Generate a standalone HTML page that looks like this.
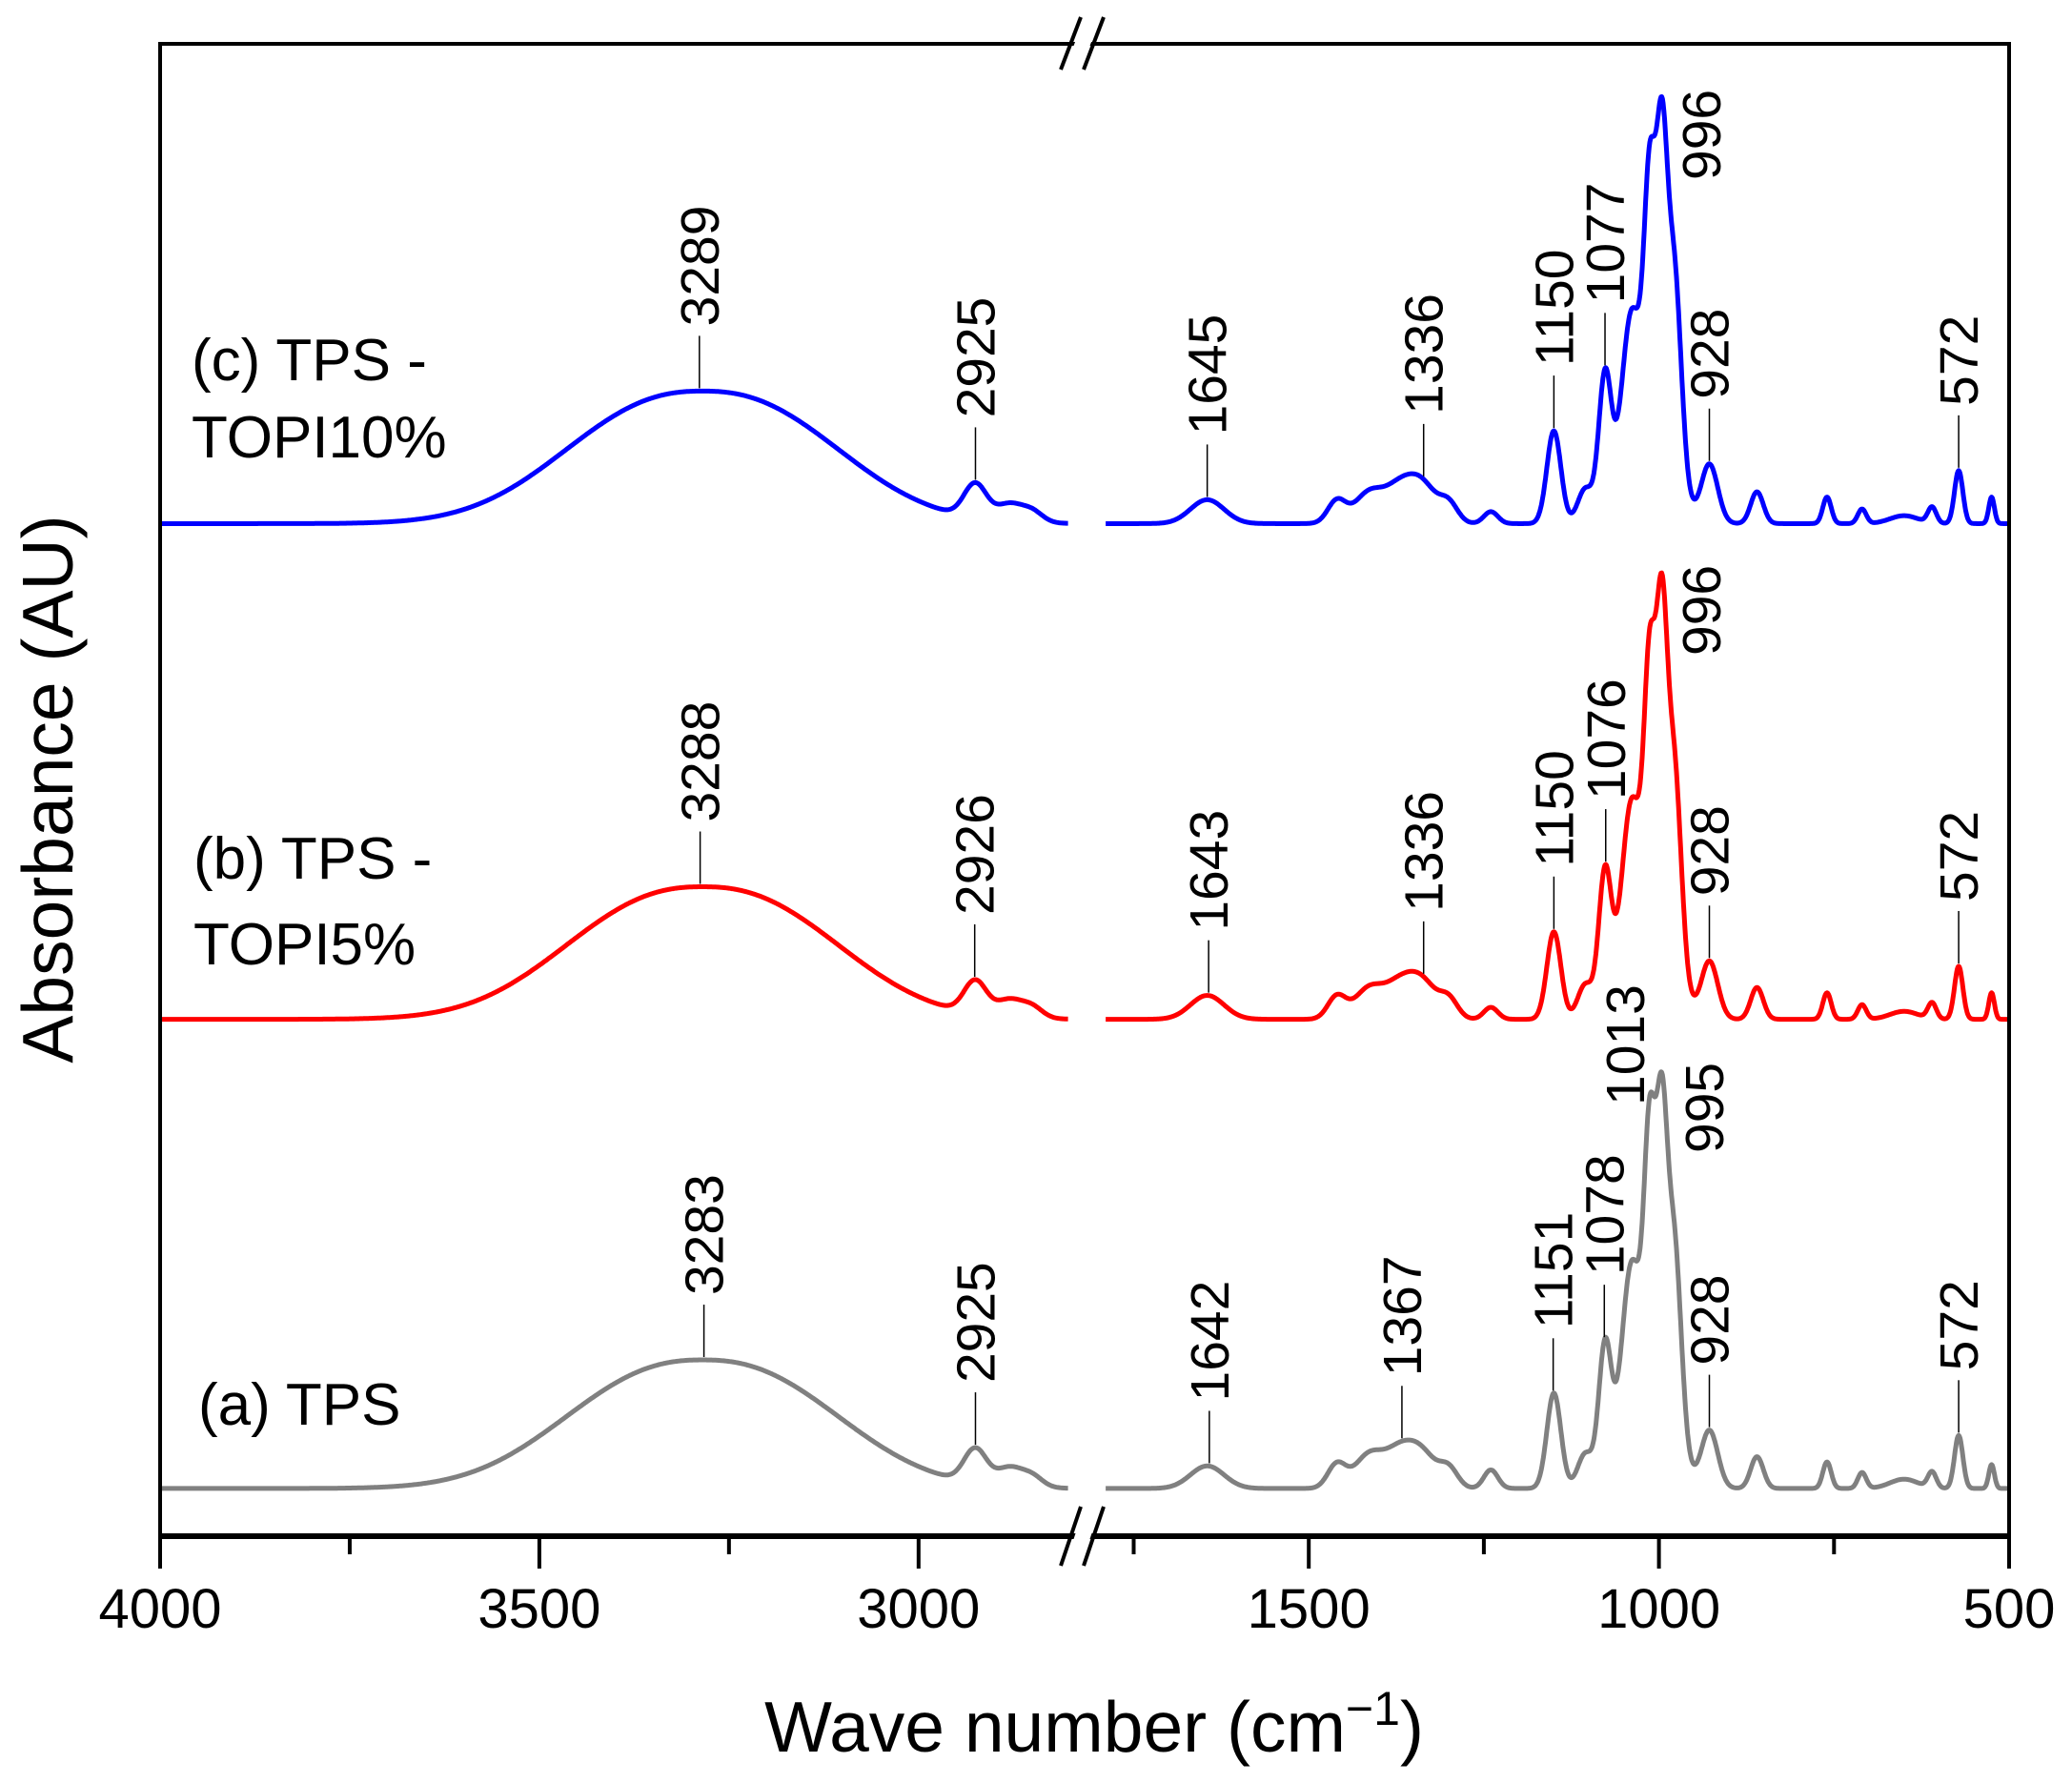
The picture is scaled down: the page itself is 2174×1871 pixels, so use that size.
<!DOCTYPE html>
<html><head><meta charset="utf-8"><style>
html,body{margin:0;padding:0;background:#fff}
svg{display:block}
text{font-family:"Liberation Sans",Arial,sans-serif;fill:#000}
</style></head><body>
<svg id="chart" width="2174" height="1871" viewBox="0 0 2174 1871" xmlns="http://www.w3.org/2000/svg">
<g id="plot"></g>
<text x="1148" y="1838" font-size="75" text-anchor="middle">Wave number (cm<tspan dy="-28" font-size="50">−1</tspan><tspan dy="28">)</tspan></text>
<text transform="translate(76,828) rotate(-90)" font-size="75" text-anchor="middle">Absorbance (AU)</text>
</svg>
<script>
// ---- data ----
const seriesNames = ["(a) TPS", "(b) TPS - TOPI5%", "(c) TPS - TOPI10%"];
const seriesOffsets = [0, 3.54, 7.28];
const seriesColors = ["#808080", "#ff0000", "#0000ff"];
// peak components: centers (cm-1), heights (AU), widths (sigma, cm-1)
const peakCenters = [3285, 2925, 2880, 2850, 1645, 1460, 1415, 1370, 1336, 1300, 1240, 1150, 1105, 1077, 1040, 1025, 1013, 996, 978, 960, 928, 860, 760, 710, 650, 610, 572, 525];
const peakWidths  = [225, 15, 17, 14, 24, 13, 20, 22, 20, 13, 10, 10, 11, 9, 14, 25, 8, 8, 10, 10, 12, 9, 6, 6, 20, 6, 6, 4];
const heightsA = [0.97, 0.26, 0.14, 0.08, 0.17, 0.18, 0.24, 0.28, 0.22, 0.14, 0.14, 0.72, 0.26, 1.02, 1.20, 0.60, 2.00, 2.28, 1.70, 0.10, 0.44, 0.24, 0.20, 0.12, 0.07, 0.12, 0.40, 0.18];
const heightsB = [1.00, 0.25, 0.13, 0.08, 0.18, 0.17, 0.22, 0.26, 0.24, 0.14, 0.09, 0.66, 0.26, 1.05, 1.15, 0.60, 1.98, 2.50, 1.75, 0.10, 0.44, 0.24, 0.20, 0.11, 0.06, 0.12, 0.40, 0.20];
const heightsC = [1.00, 0.26, 0.13, 0.08, 0.18, 0.17, 0.22, 0.27, 0.25, 0.14, 0.09, 0.70, 0.26, 1.06, 1.10, 0.60, 1.92, 2.36, 1.75, 0.10, 0.45, 0.24, 0.20, 0.11, 0.06, 0.12, 0.40, 0.20];
const seriesHeights = [heightsA, heightsB, heightsC];
// annotations: series index, wavenumber, label, has leader line
const annSeries = [2,2,2,2,2,2,2,2,2, 1,1,1,1,1,1,1,1,1, 0,0,0,0,0,0,0,0,0,0];
const annWave   = [3289,2925,1645,1336,1150,1077,996,928,572, 3288,2926,1643,1336,1150,1076,996,928,572, 3283,2925,1642,1367,1151,1078,1013,995,928,572];
const annText   = ["3289","2925","1645","1336","1150","1077","996","928","572", "3288","2926","1643","1336","1150","1076","996","928","572", "3283","2925","1642","1367","1151","1078","1013","995","928","572"];
const annLine   = [1,1,1,1,1,1,0,1,1, 1,1,1,1,1,1,0,1,1, 1,1,1,1,1,1,0,0,1,1];
// layout for labels without leader lines (pixel placement)
const freeLabelPos = {"2-996": [1805, 189], "1-996": [1805, 688], "0-1013": [1725, 1160], "0-995": [1808, 1210]};
const xTicksLeft = [4000, 3500, 3000];
const xTicksRight = [1500, 1000, 500];
const xMinorLeft = [3750, 3250];
const xMinorRight = [1750, 1250, 750];
const leftDomain = [4000, 2803];
const rightDomain = [1790, 500];

// ---- scales ----
const L = 168, R = 2108, T = 46, B = 1612;
const xL = w => L + (4000 - w) * 0.7958;
const xR = w => R - (w - 500) * 0.7348;
const xs = w => w > 2000 ? xL(w) : xR(w);
const yMin = -0.36, yMax = 10.9;
const ys = v => B - (v - yMin) / (yMax - yMin) * (B - T);

function absorb(si, w) {
  const h = seriesHeights[si];
  let s = 0;
  for (let i = 0; i < peakCenters.length; i++) {
    const d = Math.abs(w - peakCenters[i]) / peakWidths[i];
    s += h[i] * (peakWidths[i] > 100 ? Math.exp(-Math.pow(d, 2.4)) : Math.exp(-d * d / 2));
  }
  return s + seriesOffsets[si];
}

const NS = "http://www.w3.org/2000/svg";
const plot = document.getElementById('plot');
function mk(tag, attrs) { const e = document.createElementNS(NS, tag); for (const k in attrs) e.setAttribute(k, attrs[k]); plot.appendChild(e); return e; }

// series
for (let si = 0; si < 3; si++) {
  [[leftDomain, xL], [rightDomain, xR]].forEach(([dom, fx], seg) => {
    let d = "";
    for (let w = dom[0]; w >= dom[1]; w -= 1) {
      d += (d ? "L" : "M") + fx(w).toFixed(1) + "," + ys(absorb(si, w)).toFixed(1);
    }
    const p = mk('path', {d: d, fill: 'none', stroke: seriesColors[si], 'stroke-width': 5, 'stroke-linejoin': 'round'});
    
    
  });
}

// annotations
for (let i = 0; i < annWave.length; i++) {
  const si = annSeries[i], w = annWave[i];
  const x = xs(w), yp = ys(absorb(si, w));
  let tx, ty;
  if (annLine[i]) {
    const ln = mk('line', {x1: x, y1: yp - 3, x2: x, y2: yp - 58, stroke: '#000', 'stroke-width': 1.5});
    
    
    tx = x + 20; ty = yp - 68;
  } else {
    const pos = freeLabelPos[si + '-' + w];
    tx = pos[0]; ty = pos[1];
  }
  const t = mk('text', {transform: `translate(${tx},${ty}) rotate(-90)`, 'font-size': 57});
  t.textContent = annText[i];
  
  
}

// series labels
const labelLines = [[["(a) TPS", 208, 1495]], [["(b) TPS -", 203, 922], ["TOPI5%", 203, 1012]], [["(c) TPS -", 201, 399], ["TOPI10%", 201, 480]]];
labelLines.forEach((lines, si) => lines.forEach(([txt, x, y]) => {
  const t = mk('text', {x: x, y: y, 'font-size': 62});
  t.textContent = txt;
  
  
}));

// frame
const fr = mk('rect', {x: L, y: T, width: R - L, height: B - T, fill: 'none', stroke: '#000', 'stroke-width': 4});


const bx = mk('line', {x1: L, y1: B, x2: R, y2: B, stroke: '#000', 'stroke-width': 6});



// ticks
function tick(x, len, lab) {
  const l = mk('line', {x1: x, y1: B, x2: x, y2: B + len, stroke: '#000', 'stroke-width': 4});
  
  
  if (lab) {
    const t = mk('text', {x: x, y: B + 96, 'font-size': 58, 'text-anchor': 'middle'});
    t.textContent = lab;
    
    
  }
}
xTicksLeft.forEach(w => tick(xL(w), 34, String(w)));
xTicksRight.forEach(w => tick(xR(w), 34, String(w)));
xMinorLeft.forEach(w => tick(xL(w), 19, null));
xMinorRight.forEach(w => tick(xR(w), 19, null));

// axis break marks
[[73, 18], [1643, 1581]].forEach(([yb, yt], k) => {
  const g = mk('polygon', {points: `1117,${yb} 1138,${yt} 1155,${yt} 1134,${yb}`, fill: '#fff'});
  
  
  [0, 24].forEach(dx => {
    const s = mk('line', {x1: 1113 + dx, y1: yb, x2: 1134 + dx, y2: yt, stroke: '#000', 'stroke-width': 4});
    
    
  });
});
</script>
</body></html>
